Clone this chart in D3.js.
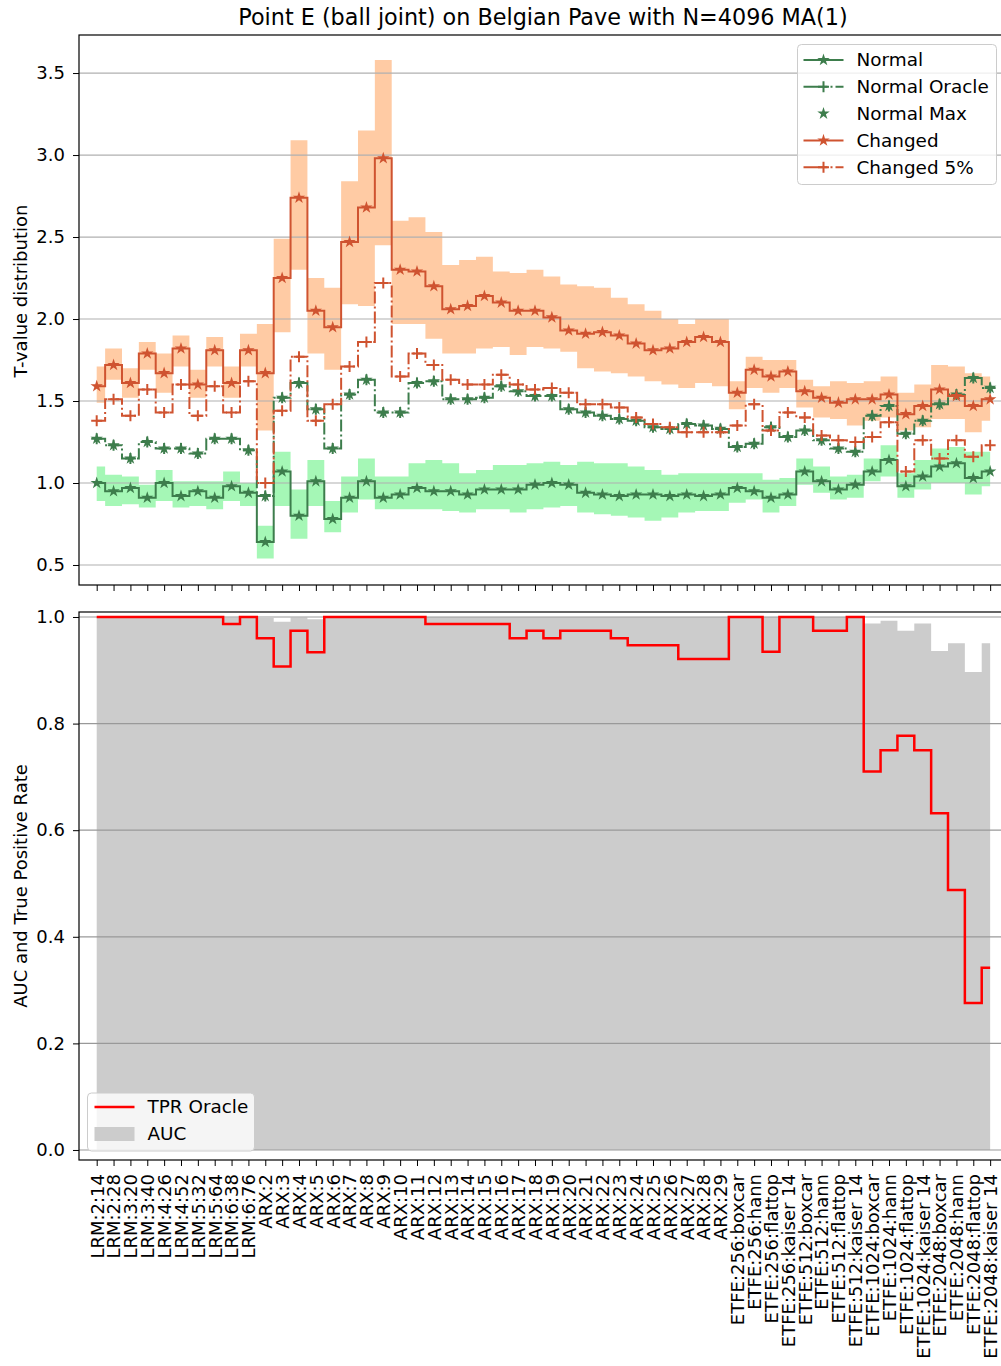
<!DOCTYPE html>
<html>
<head>
<meta charset="utf-8">
<script src="https://cdn.jsdelivr.net/npm/d3@7"></script>
<style>
  body { margin: 0; background: #fff; }
  svg { font-family: "DejaVu Sans", sans-serif; }
</style>
</head>
<body>
<div id="chart"></div>
<script>
// Categories (x axis)
const categories = [
  "LRM:2:14", "LRM:2:28", "LRM:3:20", "LRM:3:40", "LRM:4:26", "LRM:4:52", "LRM:5:32", "LRM:5:64", "LRM:6:38", "LRM:6:76",
  "ARX:2", "ARX:3", "ARX:4", "ARX:5", "ARX:6", "ARX:7", "ARX:8", "ARX:9", "ARX:10", "ARX:11",
  "ARX:12", "ARX:13", "ARX:14", "ARX:15", "ARX:16", "ARX:17", "ARX:18", "ARX:19", "ARX:20", "ARX:21",
  "ARX:22", "ARX:23", "ARX:24", "ARX:25", "ARX:26", "ARX:27", "ARX:28", "ARX:29",
  "ETFE:256:boxcar", "ETFE:256:hann", "ETFE:256:flattop", "ETFE:256:kaiser 14",
  "ETFE:512:boxcar", "ETFE:512:hann", "ETFE:512:flattop", "ETFE:512:kaiser 14",
  "ETFE:1024:boxcar", "ETFE:1024:hann", "ETFE:1024:flattop", "ETFE:1024:kaiser 14",
  "ETFE:2048:boxcar", "ETFE:2048:hann", "ETFE:2048:flattop", "ETFE:2048:kaiser 14"
];

// Top panel series
const normal = [1.00, 0.95, 0.97, 0.91, 1.00, 0.92, 0.95, 0.91, 0.98, 0.94,
  0.64, 1.07, 0.80, 1.01, 0.78, 0.91, 1.01, 0.91, 0.93, 0.97,
  0.95, 0.95, 0.93, 0.96, 0.96, 0.96, 0.99, 1.00, 0.99, 0.94,
  0.93, 0.92, 0.93, 0.93, 0.92, 0.93, 0.92, 0.93, 0.97, 0.95,
  0.91, 0.93, 1.07, 1.01, 0.96, 0.99, 1.07, 1.14, 0.98, 1.04,
  1.10, 1.12, 1.03, 1.07];
const normalHi = [1.10, 1.05, 1.04, 0.99, 1.08, 1.01, 1.01, 1.01, 1.07, 1.00,
  0.74, 1.19, 0.96, 1.14, 0.89, 1.04, 1.15, 1.04, 1.04, 1.12,
  1.14, 1.12, 1.06, 1.08, 1.11, 1.11, 1.12, 1.13, 1.11, 1.13,
  1.12, 1.12, 1.10, 1.08, 1.05, 1.06, 1.06, 1.06, 1.06, 1.06,
  1.02, 1.03, 1.15, 1.10, 1.04, 1.05, 1.15, 1.23, 1.06, 1.14,
  1.21, 1.22, 1.19, 1.19];
const normalLo = [0.89, 0.86, 0.87, 0.85, 0.89, 0.85, 0.86, 0.84, 0.89, 0.86,
  0.54, 0.86, 0.66, 0.86, 0.70, 0.82, 0.90, 0.84, 0.84, 0.84,
  0.84, 0.83, 0.82, 0.84, 0.84, 0.82, 0.84, 0.85, 0.86, 0.82,
  0.81, 0.80, 0.79, 0.77, 0.79, 0.82, 0.83, 0.83, 0.88, 0.90,
  0.82, 0.86, 0.99, 0.94, 0.90, 0.91, 1.01, 1.04, 0.91, 0.96,
  1.00, 1.00, 0.93, 0.98];
const normalOracle = [1.27, 1.23, 1.15, 1.25, 1.21, 1.21, 1.18, 1.27, 1.27, 1.20,
  0.92, 1.52, 1.61, 1.45, 1.21, 1.54, 1.63, 1.43, 1.43, 1.61,
  1.62, 1.51, 1.51, 1.52, 1.59, 1.56, 1.53, 1.53, 1.45, 1.43,
  1.41, 1.39, 1.38, 1.34, 1.33, 1.36, 1.35, 1.33, 1.22, 1.24,
  1.34, 1.28, 1.32, 1.26, 1.21, 1.19, 1.41, 1.47, 1.30, 1.38,
  1.48, 1.54, 1.64, 1.58];
const normalMax = [1.27, 1.23, 1.15, 1.25, 1.21, 1.21, 1.18, 1.27, 1.27, 1.20,
  0.92, 1.52, 1.61, 1.45, 1.21, 1.54, 1.63, 1.43, 1.43, 1.61,
  1.62, 1.51, 1.51, 1.52, 1.59, 1.56, 1.53, 1.53, 1.45, 1.43,
  1.41, 1.39, 1.38, 1.34, 1.33, 1.36, 1.35, 1.33, 1.22, 1.24,
  1.34, 1.28, 1.32, 1.26, 1.21, 1.19, 1.41, 1.47, 1.30, 1.38,
  1.48, 1.54, 1.64, 1.58];
const changed = [1.59, 1.72, 1.61, 1.79, 1.67, 1.82, 1.60, 1.81, 1.61, 1.81,
  1.67, 2.25, 2.74, 2.05, 1.95, 2.47, 2.68, 2.98, 2.30, 2.29,
  2.20, 2.06, 2.08, 2.14, 2.10, 2.05, 2.05, 2.01, 1.93, 1.91,
  1.92, 1.90, 1.85, 1.81, 1.82, 1.86, 1.89, 1.86, 1.55, 1.69,
  1.65, 1.68, 1.56, 1.52, 1.49, 1.51, 1.51, 1.54, 1.42, 1.47,
  1.57, 1.53, 1.47, 1.51];
const changedHi = [1.71, 1.82, 1.70, 1.86, 1.79, 1.90, 1.69, 1.89, 1.71, 1.91,
  1.97, 2.49, 3.09, 2.25, 2.19, 2.84, 3.15, 3.58, 2.60, 2.62,
  2.53, 2.33, 2.36, 2.38, 2.29, 2.28, 2.30, 2.26, 2.21, 2.20,
  2.19, 2.13, 2.09, 2.05, 2.00, 1.97, 2.00, 2.00, 1.62, 1.77,
  1.75, 1.75, 1.63, 1.59, 1.62, 1.61, 1.62, 1.65, 1.55, 1.60,
  1.72, 1.71, 1.67, 1.65];
const changedLo = [1.49, 1.63, 1.52, 1.69, 1.55, 1.71, 1.52, 1.71, 1.52, 1.71,
  1.32, 1.92, 2.30, 1.79, 1.69, 2.09, 2.08, 2.45, 1.97, 1.97,
  1.88, 1.79, 1.79, 1.82, 1.83, 1.78, 1.83, 1.82, 1.80, 1.70,
  1.68, 1.67, 1.65, 1.62, 1.60, 1.58, 1.61, 1.59, 1.45, 1.58,
  1.55, 1.58, 1.46, 1.40, 1.39, 1.35, 1.38, 1.40, 1.32, 1.34,
  1.39, 1.39, 1.31, 1.38];
const changed5 = [1.38, 1.51, 1.41, 1.57, 1.43, 1.60, 1.41, 1.59, 1.43, 1.62,
  1.00, 1.44, 1.77, 1.38, 1.48, 1.71, 1.86, 2.22, 1.65, 1.79,
  1.72, 1.63, 1.60, 1.60, 1.66, 1.60, 1.57, 1.58, 1.55, 1.48,
  1.48, 1.46, 1.40, 1.36, 1.34, 1.31, 1.31, 1.31, 1.35, 1.48,
  1.32, 1.43, 1.40, 1.29, 1.26, 1.25, 1.28, 1.37, 1.07, 1.26,
  1.15, 1.26, 1.16, 1.23];

// Bottom panel series
const tprOracle = [1, 1, 1, 1, 1, 1, 1, 1, 0.987, 1,
  0.96, 0.907, 0.974, 0.934, 1, 1, 1, 1, 1, 1,
  0.987, 0.987, 0.987, 0.987, 0.987, 0.96, 0.974, 0.96, 0.974, 0.974,
  0.974, 0.96, 0.947, 0.947, 0.947, 0.921, 0.921, 0.921, 1, 1,
  0.935, 1, 1, 0.974, 0.974, 1, 0.71, 0.75, 0.777, 0.75,
  0.632, 0.488, 0.276, 0.342];
const auc = [1, 1, 1, 1, 1, 1, 1, 1, 0.999, 1,
  0.998, 0.991, 0.999, 0.996, 1, 1, 1, 1, 1, 1,
  1, 1, 1, 1, 1, 1, 1, 1, 1, 1,
  1, 1, 1, 1, 1, 1, 1, 1, 1, 1,
  1, 1, 1, 1, 1, 1, 0.988, 0.993, 0.974, 0.988,
  0.936, 0.951, 0.897, 0.951];

const topTicks = [0.5, 1.0, 1.5, 2.0, 2.5, 3.0, 3.5];
const botTicks = [0.0, 0.2, 0.4, 0.6, 0.8, 1.0];

const green = "#3d7d4c", red = "#cf5330";
const greenFill = "#a5f7b6", orangeFill = "#ffcba4";
const gridColor = "#b0b0b0";
const fontTick = "18px", fontLegend = "18.4px";

const svg = d3.select("#chart").append("svg")
    .attr("width", 1001)
    .attr("height", 1366);

const left = 79, right = 1007;
const x = d3.scaleLinear().domain([-1.05, 54]).range([left, right]);
const yTop = d3.scaleLinear().domain([0.378, 3.732]).range([585, 35]);
const yBot = d3.scaleLinear().domain([-0.0188, 1.0094]).range([1160, 612]);

const idx = d3.range(categories.length);

// Title
svg.append("text")
    .attr("x", (left + right) / 2)
    .attr("y", 25)
    .attr("text-anchor", "middle")
    .style("font-size", "22.3px")
    .text("Point E (ball joint) on Belgian Pave with N=4096 MA(1)");

// clip paths
const defs = svg.append("defs");
defs.append("clipPath").attr("id", "clipTop").append("rect")
    .attr("x", left).attr("y", 35).attr("width", right - left).attr("height", 550);
defs.append("clipPath").attr("id", "clipBot").append("rect")
    .attr("x", left).attr("y", 612).attr("width", right - left).attr("height", 548);

const star = d3.symbol(d3.symbolStar).size(48);
const plus = "M-5.5,0H5.5M0,-5.5V5.5";

// ---------- top panel ----------
const topG = svg.append("g").attr("clip-path", "url(#clipTop)");

const band = (lo, hi) => d3.area()
    .x(i => x(i))
    .y0(i => yTop(lo[i]))
    .y1(i => yTop(hi[i]))
    .curve(d3.curveStep);

topG.append("path").attr("d", band(normalLo, normalHi)(idx)).attr("fill", greenFill);
topG.append("path").attr("d", band(changedLo, changedHi)(idx)).attr("fill", orangeFill);

// grid
topG.selectAll(".grid")
    .data(topTicks)
    .enter()
    .append("line")
    .attr("x1", left).attr("x2", right)
    .attr("y1", d => yTop(d)).attr("y2", d => yTop(d))
    .style("stroke", gridColor)
    .style("stroke-width", "1.2px");

const stepLine = (vals, yScale) => d3.line()
    .x(i => x(i))
    .y(i => yScale(vals[i]))
    .curve(d3.curveStep);

function drawSeries(g, vals, color, dashed, marker, showLine) {
    if (showLine) {
        g.append("path")
            .attr("d", stepLine(vals, yTop)(idx))
            .attr("fill", "none")
            .style("stroke", color)
            .style("stroke-width", "2px")
            .style("stroke-dasharray", dashed ? "12,3,2,3" : null);
    }
    const m = g.append("g").selectAll("path")
        .data(idx)
        .enter()
        .append("path")
        .attr("transform", i => `translate(${x(i)},${yTop(vals[i])})`);
    if (marker === "star") {
        m.attr("d", star).style("fill", color);
    } else {
        m.attr("d", plus).style("fill", "none").style("stroke", color).style("stroke-width", "2px");
    }
}

drawSeries(topG, normal, green, false, "star", true);
drawSeries(topG, normalOracle, green, true, "plus", true);
drawSeries(topG, normalMax, green, false, "star", false);
drawSeries(topG, changed, red, false, "star", true);
drawSeries(topG, changed5, red, true, "plus", true);

// axes top
svg.append("g")
    .attr("transform", `translate(${left},0)`)
    .call(d3.axisLeft(yTop).tickValues(topTicks).tickFormat(d3.format(".1f")).tickSize(6).tickSizeOuter(0).tickPadding(8))
    .call(g => g.select(".domain").remove())
    .selectAll("text").style("font-size", fontTick).style("font-family", "DejaVu Sans");

svg.append("g")
    .attr("transform", "translate(0,585)")
    .call(d3.axisBottom(x).tickValues(idx).tickFormat("").tickSize(6).tickSizeOuter(0))
    .call(g => g.select(".domain").remove());

svg.append("rect")
    .attr("x", left).attr("y", 35).attr("width", right - left).attr("height", 550)
    .attr("fill", "none").style("stroke", "#000").style("stroke-width", "1.2px");

svg.append("text")
    .attr("transform", "translate(26.5,291) rotate(-90)")
    .attr("text-anchor", "middle")
    .style("font-size", fontTick)
    .text("T-value distribution");

// legend top
const legTop = svg.append("g").attr("transform", "translate(797.5,44.5)");
legTop.append("rect")
    .attr("width", 199).attr("height", 140).attr("rx", 4)
    .attr("fill", "#fff").attr("fill-opacity", 0.8)
    .style("stroke", "#cccccc");
const legItems = [
    { label: "Normal", color: green, line: true, dashed: false, marker: "star" },
    { label: "Normal Oracle", color: green, line: true, dashed: true, marker: "plus" },
    { label: "Normal Max", color: green, line: false, dashed: false, marker: "star" },
    { label: "Changed", color: red, line: true, dashed: false, marker: "star" },
    { label: "Changed 5%", color: red, line: true, dashed: true, marker: "plus" }
];
legItems.forEach((d, k) => {
    const cy = 15.5 + k * 26.8;
    const g = legTop.append("g").attr("transform", `translate(0,${cy})`);
    if (d.line) {
        g.append("line")
            .attr("x1", 6).attr("x2", 46)
            .style("stroke", d.color).style("stroke-width", "2px")
            .style("stroke-dasharray", d.dashed ? "24,3,2,3" : null);
    }
    if (d.marker === "star") {
        g.append("path").attr("d", star).attr("transform", "translate(26,0)").style("fill", d.color);
    } else {
        g.append("path").attr("d", plus).attr("transform", "translate(26,0)")
            .style("fill", "none").style("stroke", d.color).style("stroke-width", "2px");
    }
    g.append("text")
        .attr("x", 59).attr("dy", "0.35em")
        .style("font-size", fontLegend)
        .text(d.label);
});

// ---------- bottom panel ----------
const botG = svg.append("g").attr("clip-path", "url(#clipBot)");

botG.append("path")
    .attr("d", d3.area().x(i => x(i)).y0(yBot(0)).y1(i => yBot(auc[i])).curve(d3.curveStep)(idx))
    .attr("fill", "#cccccc");

botG.selectAll(".grid")
    .data(botTicks)
    .enter()
    .append("line")
    .attr("x1", left).attr("x2", right)
    .attr("y1", d => yBot(d)).attr("y2", d => yBot(d))
    .style("stroke", "#999999")
    .style("stroke-width", "1.2px");

botG.append("path")
    .attr("d", stepLine(tprOracle, yBot)(idx))
    .attr("fill", "none")
    .style("stroke", "#ff0000")
    .style("stroke-width", "2.5px");

svg.append("g")
    .attr("transform", `translate(${left},0)`)
    .call(d3.axisLeft(yBot).tickValues(botTicks).tickFormat(d3.format(".1f")).tickSize(6).tickSizeOuter(0).tickPadding(8))
    .call(g => g.select(".domain").remove())
    .selectAll("text").style("font-size", fontTick).style("font-family", "DejaVu Sans");

svg.append("g")
    .attr("transform", "translate(0,1160)")
    .call(d3.axisBottom(x).tickValues(idx).tickFormat(i => categories[i]).tickSize(6).tickSizeOuter(0))
    .call(g => g.select(".domain").remove())
    .selectAll("text")
    .attr("transform", "rotate(-90)")
    .attr("x", -14)
    .attr("y", 0)
    .attr("dy", "0.35em")
    .style("text-anchor", "end")
    .style("font-size", fontTick)
    .style("font-family", "DejaVu Sans");

svg.append("rect")
    .attr("x", left).attr("y", 612).attr("width", right - left).attr("height", 548)
    .attr("fill", "none").style("stroke", "#000").style("stroke-width", "1.2px");

svg.append("text")
    .attr("transform", "translate(26.5,886) rotate(-90)")
    .attr("text-anchor", "middle")
    .style("font-size", fontTick)
    .text("AUC and True Positive Rate");

// legend bottom
const legBot = svg.append("g").attr("transform", "translate(87.5,1093)");
legBot.append("rect")
    .attr("width", 167).attr("height", 58).attr("rx", 4)
    .attr("fill", "#fff").attr("fill-opacity", 0.8)
    .style("stroke", "#cccccc");
legBot.append("line")
    .attr("x1", 7).attr("x2", 47).attr("y1", 14).attr("y2", 14)
    .style("stroke", "#ff0000").style("stroke-width", "2.5px");
legBot.append("text").attr("x", 60).attr("y", 14).attr("dy", "0.35em")
    .style("font-size", fontLegend).text("TPR Oracle");
legBot.append("rect")
    .attr("x", 7).attr("y", 34).attr("width", 40).attr("height", 14)
    .attr("fill", "#cccccc");
legBot.append("text").attr("x", 60).attr("y", 41).attr("dy", "0.35em")
    .style("font-size", fontLegend).text("AUC");
</script>
</body>
</html>
